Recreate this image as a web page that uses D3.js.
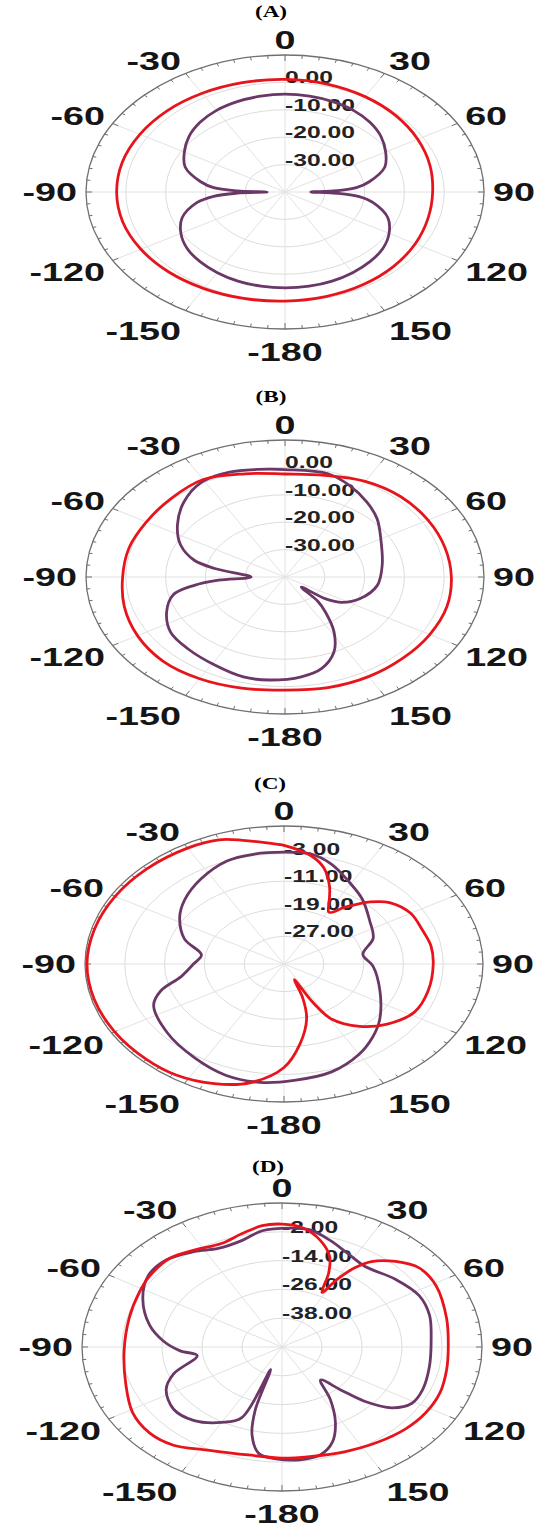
<!DOCTYPE html>
<html>
<head>
<meta charset="utf-8">
<script src="https://cdn.jsdelivr.net/npm/d3@7"></script>
<style>
  html, body { margin: 0; padding: 0; background: #fff; }
  svg { display: block; }
</style>
</head>
<body>
<script>
// panel titles and angular tick labels
const titles = ['(A)', '(B)', '(C)', '(D)'];
const angleTicks = [0, 30, 60, 90, 120, 150, 180, -150, -120, -90, -60, -30];
const angleTickLabels = ['0', '30', '60', '90', '120', '150', '-180', '-150', '-120', '-90', '-60', '-30'];

// radial scales (dB) for each panel: [centre, rim] and labelled rings
const domainA = [-40, 10], ringsA = [0, -10, -20, -30];
const domainB = [-40, 10], ringsB = [0, -10, -20, -30];
const domainC = [-35, 5], ringsC = [-3, -11, -19, -27];
const domainD = [-50, 10], ringsD = [-2, -14, -26, -38];

// patterns: [angle in degrees, gain in dB]
const purpleA = [[-180,-5],[-170,-5.1],[-160,-5.4],[-150,-6],[-140,-6.8],[-130,-7.9],[-120,-9.8],[-110,-12.5],[-100,-17.5],[-95,-22],[-92,-28],[-90,-35.5],[-88,-28],[-85,-22],[-80,-18.5],[-70,-13.3],[-60,-10.8],[-50,-8.5],[-40,-6.8],[-30,-5.6],[-20,-4.9],[-10,-4.5],[0,-4.3],[10,-4.5],[20,-4.9],[30,-5.6],[40,-6.8],[50,-8.5],[60,-10.8],[70,-13.3],[80,-18.5],[85,-22],[88,-27],[90,-33.5],[92,-27],[95,-21.5],[100,-17.5],[110,-12.5],[120,-9.8],[130,-7.9],[140,-6.8],[150,-6],[160,-5.4],[170,-5.1]];
const redA = [[-180,-0.2],[-165,0.2],[-150,0.7],[-135,1.3],[-120,1.8],[-105,2.2],[-90,2.3],[-75,2.3],[-60,2.1],[-45,1.9],[-30,1.6],[-15,1.3],[0,1.1],[15,0.8],[30,0.2],[45,-0.6],[60,-1.5],[75,-2.3],[90,-2.9],[105,-2.8],[120,-2.2],[135,-1.5],[150,-0.9],[165,-0.5]];

const purpleB = [[-174,-2.2],[-164,-2.05],[-151,-3.35],[-137,-4.2],[-125,-4.9],[-113,-7.7],[-103,-11.2],[-97.6,-17],[-94,-23.3],[-90,-31.5],[-80,-22.1],[-75,-16.4],[-66,-11.3],[-55,-7],[-43,-2.7],[-31,0.5],[-20,0.75],[-10,-0.15],[0,-0.8],[16,-0.8],[26,-2.9],[37,-5.8],[47.5,-8.6],[60,-12.2],[80,-15.2],[97.5,-16.6],[113,-19.6],[123,-23],[128,-27],[132,-34.5],[137,-28],[141.5,-23.7],[148.4,-16.5],[155.8,-10],[164.5,-5.4],[173.6,-3.35]];
const redB = [[-180,1.3],[-165,2],[-150,2.9],[-135,3.4],[-120,2.8],[-105,1.8],[-90,0.8],[-75,0.6],[-60,0.2],[-45,0.5],[-30,1.1],[-15,-1],[0,-2.4],[15,-1.6],[30,0.3],[45,1.3],[60,1.5],[75,1.6],[90,1.8],[105,2.1],[120,2],[135,1.9],[150,2],[165,1.8]];

const purpleC = [[-172,-0.35],[-160,-0.7],[-146.6,-2.4],[-130.5,-4.2],[-114.5,-6.2],[-107.5,-9],[-100,-14],[-90,-16.8],[-81,-18.2],[-70,-13.7],[-57,-10],[-47,-7.7],[-34,-5.2],[-21,-3],[-11,-2.6],[0,-2.6],[10,-2.7],[18.5,-4.6],[29,-7.9],[40,-10.5],[54,-13.7],[67.5,-15.6],[80,-18.9],[92,-17.1],[112,-14.2],[130,-9.9],[140,-7.3],[150,-4.8],[163,-2.3],[176.5,-1.2]];
const redC = [[-169,0],[-158,2.4],[-146,3.8],[-135,4.1],[-120,4.3],[-105,4.5],[-90,4.6],[-75,4.4],[-60,4.2],[-45,4],[-30,3.8],[-20,3.3],[-13,1.8],[-2,-0.3],[0,-0.6],[10,-3.2],[16,-6],[22,-10.6],[27,-15],[31,-17.5],[37,-14.3],[44,-10],[50,-7.3],[60,-5.6],[70,-5.5],[80,-5],[90,-5],[105,-5],[118,-5.3],[130,-7.9],[140,-11.4],[149,-16.3],[152.5,-22.5],[155.5,-30],[159,-24.5],[164,-18.5],[172,-11.7],[180,-5]];

const purpleD = [[-177.7,-3.4],[-171,-5.2],[-166.3,-12.1],[-163,-22.5],[-160,-40],[-157.7,-18.2],[-150,-13.7],[-139,-9.5],[-128.6,-8.4],[-117,-11],[-109,-15.6],[-98,-24.3],[-93,-19.4],[-86,-14.3],[-77,-9.2],[-64.4,-3.7],[-53.7,-0.1],[-43.6,0.2],[-33.6,-2.3],[-25,-4.7],[-15,-4],[-7,-1.2],[2.6,-0.4],[9.8,-0.5],[18,-3.3],[26.8,-6.3],[36.4,-8.2],[50.3,-5.8],[62.5,-3.6],[73.3,-3.8],[87,-5.2],[101,-5],[113,-4.2],[121,-4.5],[127.5,-8.4],[132.4,-16.5],[135.4,-24.9],[140,-32],[146.5,-23.7],[153,-14.7],[159,-7.7],[165.7,-3.6],[173.5,-2.7]];
const redD = [[-167.4,-3.9],[-152.5,-1.6],[-141.5,2.3],[-132,3.5],[-121.4,2.5],[-108,-0.7],[-92,-2.6],[-75.4,-2.6],[-62,-1.5],[-53.4,-0.5],[-42.3,0],[-33.2,-1.8],[-22.9,-3.2],[-14.4,-1.3],[-6.7,0.9],[0,1.2],[7.3,0],[14.5,-4.1],[20.8,-9.7],[24.4,-16.1],[27.8,-24.3],[30.4,-17.3],[33.4,-10.6],[37,-5.4],[43.7,-0.7],[51.3,2.7],[61.2,2.8],[76.4,0.8],[88.8,-0.1],[101,0.3],[112,1.1],[122.3,1.1],[132.6,0.4],[143.9,-1],[156.8,-2.5],[169.6,-3.6],[180,-3.7]];

const width = 543;
const height = 1528;
const stretch = 1.45;   // the original figure is squeezed into wide ellipses
const purple = '#6b3766';
const red = '#e8141b';

const panels = [
    {cx: 285, cy: 192, rx: 199, ry: 137, domain: domainA, rings: ringsA, purple: purpleA, red: redA},
    {cx: 285, cy: 577, rx: 199, ry: 137, domain: domainB, rings: ringsB, purple: purpleB, red: redB},
    {cx: 284, cy: 964, rx: 199, ry: 138, domain: domainC, rings: ringsC, purple: purpleC, red: redC},
    {cx: 282, cy: 1347, rx: 200, ry: 144, domain: domainD, rings: ringsD, purple: purpleD, red: redD}
];

const svg = d3.select('body')
    .append('svg')
    .attr('width', width)
    .attr('height', height);

panels.forEach((p, i) => drawPanel(p, titles[i]));

function drawPanel(p, title) {
    const g = svg.append('g');
    const r = d3.scaleLinear().domain(p.domain).range([0, 1]).clamp(true);

    const pt = (frac, deg) => {
        const a = deg * Math.PI / 180;
        return [p.cx + p.rx * frac * Math.sin(a), p.cy - p.ry * frac * Math.cos(a)];
    };

    // grid rings
    g.selectAll('ellipse.ring')
        .data(p.rings)
        .enter()
        .append('ellipse')
        .attr('class', 'ring')
        .attr('cx', p.cx)
        .attr('cy', p.cy)
        .attr('rx', d => p.rx * r(d))
        .attr('ry', d => p.ry * r(d))
        .attr('fill', 'none')
        .attr('stroke', '#dcdcdc')
        .attr('stroke-width', 1);

    // spokes
    g.selectAll('line.spoke')
        .data(d3.range(0, 360, 30))
        .enter()
        .append('line')
        .attr('class', 'spoke')
        .attr('x1', p.cx)
        .attr('y1', p.cy)
        .attr('x2', d => pt(1, d)[0])
        .attr('y2', d => pt(1, d)[1])
        .attr('stroke', '#e2e2e2')
        .attr('stroke-width', 1);

    // outer rim with ticks
    g.append('ellipse')
        .attr('cx', p.cx)
        .attr('cy', p.cy)
        .attr('rx', p.rx)
        .attr('ry', p.ry)
        .attr('fill', 'none')
        .attr('stroke', '#707070')
        .attr('stroke-width', 1.3);

    g.selectAll('line.tick')
        .data(d3.range(0, 360, 5))
        .enter()
        .append('line')
        .attr('class', 'tick')
        .each(function(d) {
            const p0 = pt(1, d);
            const dx = p.cx - p0[0], dy = p.cy - p0[1];
            const len = Math.hypot(dx, dy);
            const L = d % 30 === 0 ? 6 : 3.5;
            d3.select(this)
                .attr('x1', p0[0]).attr('y1', p0[1])
                .attr('x2', p0[0] + dx / len * L)
                .attr('y2', p0[1] + dy / len * L);
        })
        .attr('stroke', '#707070')
        .attr('stroke-width', 1);

    // angular labels
    g.selectAll('text.angle')
        .data(angleTicks)
        .enter()
        .append('text')
        .attr('class', 'angle')
        .attr('transform', d => {
            const a = d * Math.PI / 180;
            const c = Math.cos(a);
            const x = p.cx + (p.rx + 9) * Math.sin(a);
            const yc = p.cy - (c > 0.01 ? p.ry + 15 : p.ry + 23) * c;
            return 'translate(' + x + ',' + (yc + 9.3) + ') scale(' + stretch + ',1)';
        })
        .attr('text-anchor', d => (d === 0 || d === 180) ? 'middle' : (d > 0 ? 'start' : 'end'))
        .attr('font-family', 'Liberation Sans, Arial, sans-serif')
        .attr('font-weight', 'bold')
        .attr('font-size', 26)
        .attr('fill', '#151515')
        .text((d, i) => angleTickLabels[i]);

    // radial labels
    g.selectAll('text.ringlabel')
        .data(p.rings)
        .enter()
        .append('text')
        .attr('class', 'ringlabel')
        .attr('transform', d => 'translate(' + p.cx + ',' + (p.cy - p.ry * r(d) + 1) + ') scale(' + stretch + ',1)')
        .attr('font-family', 'Liberation Sans, Arial, sans-serif')
        .attr('font-weight', 'bold')
        .attr('font-size', 17)
        .attr('fill', '#222')
        .text(d => d.toFixed(2));

    // title
    g.append('text')
        .attr('transform', 'translate(' + (p.cx - 14) + ',' + (p.cy - 175) + ') scale(' + stretch + ',1)')
        .attr('text-anchor', 'middle')
        .attr('font-family', 'Liberation Serif, Times New Roman, serif')
        .attr('font-weight', 'bold')
        .attr('font-size', 16)
        .attr('fill', '#000')
        .text(title);

    // patterns
    const line = d3.line()
        .x(d => pt(r(d[1]), d[0])[0])
        .y(d => pt(r(d[1]), d[0])[1])
        .curve(d3.curveCatmullRomClosed.alpha(0.5));

    g.append('path')
        .datum(p.purple)
        .attr('d', line)
        .attr('fill', 'none')
        .attr('stroke', purple)
        .attr('stroke-width', 2.8);

    g.append('path')
        .datum(p.red)
        .attr('d', line)
        .attr('fill', 'none')
        .attr('stroke', red)
        .attr('stroke-width', 2.8);
}
</script>
</body>
</html>
